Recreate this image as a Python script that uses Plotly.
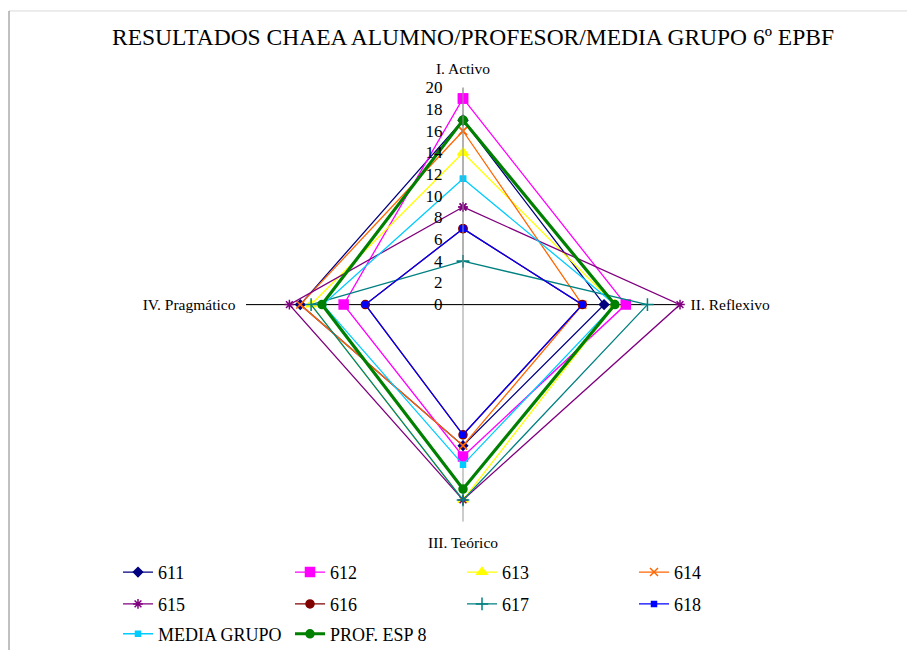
import plotly.graph_objects as go

# CHAEA learning-style scores per student, group mean and teacher
categories = ["I. Activo", "II. Reflexivo", "III. Teórico", "IV. Pragmático"]

s611 = [17, 13, 13, 15]
s612 = [19, 15, 14, 11]
s613 = [14, 14, 18, 14]
s614 = [16, 11, 13, 15]
s615 = [9, 20, 18, 16]
s616 = [7, 11, 12, 9]
s617 = [4, 17, 18, 14]
s618 = [7, 11, 12, 9]
media_grupo = [11.6, 14.0, 14.75, 12.9]
prof_esp8 = [17, 14, 17, 13]

radial_ticks = [0, 2, 4, 6, 8, 10, 12, 14, 16, 18, 20]

W, H = 907, 653
SERIF = "Times New Roman"
CLEAR = "rgba(0,0,0,0)"

series = [
    ("611", s611, "#000080", "diamond", 7, 1.3, "legend"),
    ("612", s612, "#FF00FF", "square", 9, 1.3, "legend"),
    ("613", s613, "#FFFF00", "triangle-up", 9, 1.3, "legend"),
    ("614", s614, "#FF6600", "x-thin-open", 8, 1.3, "legend"),
    ("615", s615, "#800080", "asterisk-open", 8, 1.3, "legend2"),
    ("616", s616, "#800000", "circle", 8, 1.3, "legend2"),
    ("617", s617, "#008080", "cross-thin-open", 9, 1.3, "legend2"),
    ("618", s618, "#0000FF", "square", 5, 1.3, "legend2"),
    ("MEDIA GRUPO", media_grupo, "#00CCFF", "square", 5, 1.3, "legend3"),
    ("PROF. ESP 8", prof_esp8, "#008000", "circle", 8, 3.2, "legend3"),
]

fig = go.Figure()

# horizontal spoke (Reflexivo - Pragmático), drawn darker than the vertical one
fig.add_trace(go.Scatterpolar(
    r=[20, 20], theta=[categories[1], categories[3]],
    mode="lines", line=dict(color="#000000", width=1),
    showlegend=False, hoverinfo="skip",
))

for name, vals, color, symbol, size, lw, leg in series:
    fig.add_trace(go.Scatterpolar(
        r=vals + vals[:1],
        theta=categories + categories[:1],
        name=name,
        mode="lines+markers",
        line=dict(color=color, width=lw),
        marker=dict(color=color, symbol=symbol, size=size,
                    line=dict(color=color, width=1.5)),
        legend=leg,
    ))

cx0, cx1 = 245 / W, 681 / W
cy0, cy1 = (H - 524) / H, (H - 88) / H

legend_common = dict(
    orientation="h", font=dict(family=SERIF, size=18, color="#000"),
    entrywidth=127, entrywidthmode="pixels", bgcolor=CLEAR,
    x=118 / W, xanchor="left", yanchor="middle",
)

fig.update_layout(
    width=W, height=H,
    margin=dict(l=0, r=0, t=0, b=0),
    paper_bgcolor="white",
    font=dict(family=SERIF, color="#000"),
    title=dict(text="RESULTADOS CHAEA ALUMNO/PROFESOR/MEDIA GRUPO 6º EPBF",
               x=473 / W, xanchor="center", y=1 - 37 / H, yanchor="middle",
               font=dict(family=SERIF, size=23.5, color="#000")),
    polar=dict(
        domain=dict(x=[cx0, cx1], y=[cy0, cy1]),
        bgcolor="white",
        radialaxis=dict(range=[0, 20], tickvals=radial_ticks, angle=90,
                        tickangle=90, showgrid=False, showline=True,
                        linecolor="#999999", linewidth=1,
                        ticks="outside", ticklen=14, tickcolor=CLEAR,
                        side="counterclockwise",
                        tickfont=dict(family=SERIF, size=17, color="#000")),
        angularaxis=dict(direction="clockwise", rotation=90,
                         categoryorder="array", categoryarray=categories,
                         showline=False, showgrid=True,
                         gridcolor="#999999", gridwidth=1,
                         ticks="outside", ticklen=7, tickcolor=CLEAR,
                         tickfont=dict(family=SERIF, size=15.5, color="#000")),
    ),
    legend=dict(**legend_common, y=1 - 575 / H),
    legend2=dict(**legend_common, y=1 - 607 / H),
    legend3=dict(**legend_common, y=1 - 637 / H),
    shapes=[
        dict(type="line", xref="paper", yref="paper",
             x0=9 / W, x1=1, y0=1 - 11 / H, y1=1 - 11 / H,
             line=dict(color="#d9d9d9", width=1)),
        dict(type="line", xref="paper", yref="paper",
             x0=9 / W, x1=9 / W, y0=0, y1=1 - 11 / H,
             line=dict(color="#808080", width=1)),
    ],
)

fig.write_html("out.html")
